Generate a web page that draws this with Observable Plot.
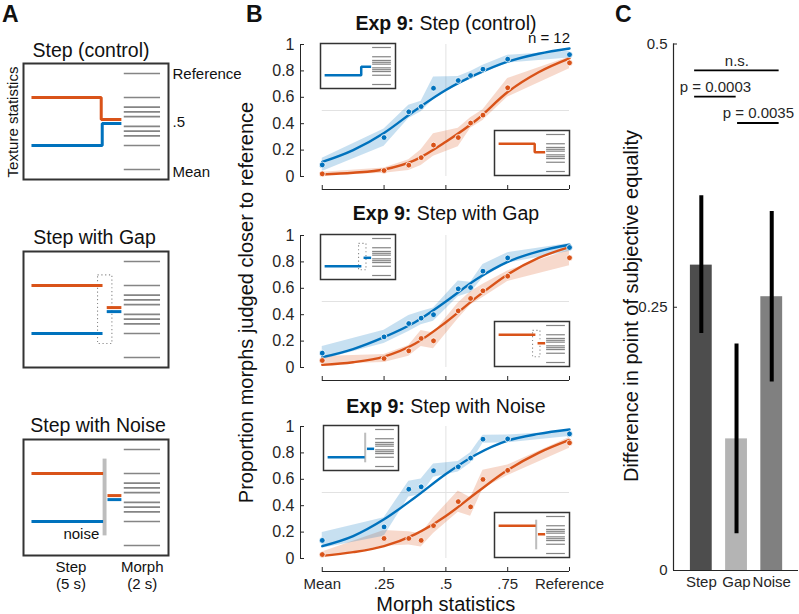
<!DOCTYPE html>
<html><head><meta charset="utf-8">
<script src="https://cdn.jsdelivr.net/npm/d3@7"></script>
<script src="https://cdn.jsdelivr.net/npm/@observablehq/plot@0.6"></script>
<style>
html,body{margin:0;padding:0;background:#fff;}
#fig{position:relative;width:799px;height:614px;overflow:hidden;}
</style></head><body><div id="fig"></div>
<script>
// ---------------- data ----------------
const morphX = [0, 0.25, 0.35, 0.4, 0.45, 0.55, 0.6, 0.65, 0.75, 1];
const fitX = [0, 0.125, 0.25, 0.375, 0.5, 0.625, 0.75, 0.875, 1];
const xTicks = [0, 0.25, 0.5, 0.75, 1];
const xTickLabels = ["Mean", ".25", ".5", ".75", "Reference"];
const yTicks = [0, 0.2, 0.4, 0.6, 0.8, 1];
const yTickLabels = ["0", "0.2", "0.4", "0.6", "0.8", "1"];
const titles = ["Step (control)", "Step with Gap", "Step with Noise"];
const expLabel = "Exp 9:";
const nLabel = "n = 12";

// Exp 9: Step (control)
const ctrlBlue = [0.088, 0.295, 0.49, 0.53, 0.669, 0.727, 0.765, 0.813, 0.889, 0.923];
const ctrlBlueCI = [0.05, 0.065, 0.05, 0.04, 0.085, 0.03, 0.03, 0.03, 0.03, 0.025];
const ctrlOrange = [0.02, 0.045, 0.086, 0.143, 0.238, 0.295, 0.405, 0.465, 0.672, 0.861];
const ctrlOrangeCI = [0.012, 0.02, 0.04, 0.06, 0.085, 0.07, 0.04, 0.04, 0.07, 0.045];
const ctrlBlueFit = [0.11, 0.2, 0.33, 0.5, 0.655, 0.775, 0.87, 0.93, 0.97];
const ctrlOrangeFit = [0.015, 0.028, 0.053, 0.124, 0.263, 0.43, 0.64, 0.79, 0.895];
// Exp 9: Step with Gap
const gapBlue = [0.109, 0.232, 0.333, 0.374, 0.40, 0.596, 0.606, 0.73, 0.83, 0.909];
const gapBlueCI = [0.05, 0.05, 0.06, 0.05, 0.05, 0.06, 0.04, 0.05, 0.04, 0.03];
const gapOrange = [0.053, 0.068, 0.126, 0.22, 0.202, 0.429, 0.523, 0.581, 0.692, 0.831];
const gapOrangeCI = [0.03, 0.03, 0.04, 0.06, 0.06, 0.06, 0.05, 0.05, 0.04, 0.06];
const gapBlueFit = [0.078, 0.14, 0.23, 0.343, 0.5, 0.67, 0.8, 0.88, 0.93];
const gapOrangeFit = [0.02, 0.04, 0.083, 0.18, 0.343, 0.533, 0.705, 0.83, 0.912];
// Exp 9: Step with Noise
const noiseBlue = [0.137, 0.239, 0.525, 0.543, 0.665, 0.695, 0.761, 0.904, 0.906, 0.944];
const noiseBlueCI = [0.06, 0.07, 0.06, 0.06, 0.05, 0.04, 0.04, 0.03, 0.03, 0.02];
const noiseOrange = [0.03, 0.152, 0.152, 0.137, 0.249, 0.431, 0.391, 0.599, 0.668, 0.876];
const noiseOrangeCI = [0.02, 0.06, 0.05, 0.05, 0.06, 0.08, 0.07, 0.07, 0.04, 0.04];
const noiseBlueFit = [0.094, 0.17, 0.297, 0.462, 0.64, 0.79, 0.893, 0.944, 0.977];
const noiseOrangeFit = [0.02, 0.048, 0.094, 0.183, 0.322, 0.5, 0.67, 0.8, 0.898];

// Panel C
const conditions = ["Step", "Gap", "Noise"];
const pseDiff = [0.290, 0.125, 0.260];
const pseLow = [0.225, 0.035, 0.179];
const pseHigh = [0.356, 0.215, 0.341];
const cTicks = [0, 0.25, 0.5];
const cTickLabels = ["0", "0.25", "0.5"];
const sigLabels = ["n.s.", "p = 0.0003", "p = 0.0035"];
const sigLevels = [0.475, 0.45, 0.425];
const sigFrom = [0.81, 0.81, 2.03];
const sigTo = [3.21, 1.99, 3.21];

// Panel A schematic (time in box units 0-10, statistic 0 = Mean .. 1 = Reference)
const sideNames = ["high", "low"];
const adaptLevels = [0.75, 0.25];
const probeLevels = [0.52, 0.478];
const changeTimes = [5.36, 5.43];
const gapWindowT = [5.14, 6.13];
const gapWindowV = [0.14, 0.855];
const noiseWindowT = [5.49, 5.76];
const noiseWindowV = [0.1, 0.9];
const axisLabelsA = ["Reference", ".5", "Mean"];
const timeLabelsA = [["Step", "(5 s)"], ["Morph", "(2 s)"]];

// ---------------- styles ----------------
const FONT = '"Liberation Sans", Arial, Helvetica, sans-serif';
const BLUE = "#0072BD", ORANGE = "#D95319";
const GRID = "#e2e2e2", AXIS = "#262626";
const barColors = ["#4d4d4d", "#b4b4b4", "#808080"];
const fig = document.getElementById("fig");
function place(node, left, top) {
  node.style.position = "absolute";
  node.style.left = left + "px";
  node.style.top = top + "px";
  fig.appendChild(node);
  return node;
}
const baseStyle = {fontFamily: FONT, fontSize: "15px", color: AXIS, background: "none", overflow: "visible"};

// ---------------- schematic ----------------
function schematic(kind, sides, W, H, pad, lw, mlw, fw) {
  const padU = pad / (H - 2 * pad);
  const stepOn = 0.55, probeOff = 6.75, morphOn = 6.95, morphOff = 9.45;
  const paths = [];
  sides.forEach(i => {
    const s = sideNames[i];
    if (kind === "step") {
      const tc = changeTimes[i];
      [[stepOn, adaptLevels[i]], [tc, adaptLevels[i]], [tc, probeLevels[i]], [probeOff, probeLevels[i]]]
        .forEach(([t, v]) => paths.push({t, v, s, seg: s + "a"}));
    } else {
      const end = kind === "gap" ? 5.45 : noiseWindowT[0];
      const start = kind === "gap" ? 5.74 : noiseWindowT[1] + 0.03;
      paths.push({t: stepOn, v: adaptLevels[i], s, seg: s + "a"}, {t: end, v: adaptLevels[i], s, seg: s + "a"});
      paths.push({t: start, v: probeLevels[i], s, seg: s + "b"}, {t: probeOff, v: probeLevels[i], s, seg: s + "b"});
    }
  });
  const marks = [Plot.frame({fill: "white", stroke: "#333", strokeWidth: fw})];
  marks.push(Plot.ruleY(morphX, {x1: morphOn, x2: morphOff, stroke: "#858585", strokeWidth: mlw}));
  if (kind === "gap") marks.push(Plot.rect([0], {x1: gapWindowT[0], x2: gapWindowT[1], y1: gapWindowV[0], y2: gapWindowV[1], fill: "none", stroke: "#8a8a8a", strokeWidth: 1.1, strokeDasharray: "1.2,2.6"}));
  if (kind === "noise") marks.push(Plot.rect([0], {x1: noiseWindowT[0], x2: noiseWindowT[1], y1: noiseWindowV[0], y2: noiseWindowV[1], fill: "#bdbdbd"}));
  marks.push(Plot.line(paths, {x: "t", y: "v", z: "seg", stroke: "s", strokeWidth: lw, strokeLinejoin: "miter", strokeLinecap: "butt"}));
  return Plot.plot({
    width: W + 2, height: H + 2, margin: 1,
    x: {domain: [0, 10], axis: null}, y: {domain: [-padU, 1 + padU], axis: null},
    color: {domain: sideNames, range: [ORANGE, BLUE]},
    style: baseStyle, marks
  });
}

// ---------------- panel B ----------------
function psychPlot(p, showLabels) {
  const pts = [], fits = [];
  morphX.forEach((x, i) => {
    pts.push({x, y: p.orange[i], lo: p.orange[i] - p.orangeCI[i], hi: p.orange[i] + p.orangeCI[i], s: "high"});
    pts.push({x, y: p.blue[i], lo: p.blue[i] - p.blueCI[i], hi: p.blue[i] + p.blueCI[i], s: "low"});
  });
  fitX.forEach((x, i) => {
    fits.push({x, y: p.orangeFit[i], s: "high"});
    fits.push({x, y: p.blueFit[i], s: "low"});
  });
  const x0 = -0.088, y0 = -0.0985;
  return Plot.plot({
    width: 355, height: 185, marginLeft: 45, marginRight: 41, marginTop: 10, marginBottom: 30,
    x: {domain: [x0, 1], label: null}, y: {domain: [y0, 1], label: null},
    color: {domain: sideNames, range: [ORANGE, BLUE]},
    style: baseStyle,
    marks: [
      Plot.ruleX([0.5], {y1: 0, y2: 1, stroke: GRID}),
      Plot.ruleY([0.5], {x1: 0, x2: 1, stroke: GRID}),
      Plot.areaY(pts, {x: "x", y1: "lo", y2: "hi", z: "s", fill: "s", fillOpacity: 0.22}),
      Plot.line(fits, {x: "x", y: "y", z: "s", stroke: "s", strokeWidth: 2.4, curve: "monotone-x"}),
      Plot.dot(pts, {x: "x", y: "y", fill: "s", r: 2.9, stroke: "white", strokeWidth: 0.8}),
      Plot.ruleX([x0], {y1: 0, y2: 1, stroke: AXIS}),
      Plot.ruleY([y0], {x1: 0, x2: 1, stroke: AXIS}),
      Plot.axisY({ticks: yTicks, tickFormat: d => yTickLabels[yTicks.indexOf(d)], tickSize: -4, tickPadding: 10, fontSize: 16, label: null}),
      Plot.axisX({ticks: xTicks, tickFormat: d => showLabels ? xTickLabels[xTicks.indexOf(d)] : "", tickSize: -4, tickPadding: 11, fontSize: 15, label: null})
    ]
  });
}

const bPanels = [
  {kind: "step", blue: ctrlBlue, blueCI: ctrlBlueCI, orange: ctrlOrange, orangeCI: ctrlOrangeCI, blueFit: ctrlBlueFit, orangeFit: ctrlOrangeFit},
  {kind: "gap", blue: gapBlue, blueCI: gapBlueCI, orange: gapOrange, orangeCI: gapOrangeCI, blueFit: gapBlueFit, orangeFit: gapOrangeFit},
  {kind: "noise", blue: noiseBlue, blueCI: noiseBlueCI, orange: noiseOrange, orangeCI: noiseOrangeCI, blueFit: noiseBlueFit, orangeFit: noiseOrangeFit}
];
const bTops = [34, 225, 416];
const insetLefts = [319.5, 319.5, 323];
bPanels.forEach((p, k) => place(psychPlot(p, k === 2), 255, bTops[k]));
bPanels.forEach((p, k) => {
  const Y1 = bTops[k] + 10, Y0 = bTops[k] + 142;
  place(schematic(p.kind, [1], 75, 45, 4, 2.5, 1.2, 1.5), insetLefts[k] - 1, Y1 - 2);
  place(schematic(p.kind, [0], 75, 45, 4, 2.5, 1.2, 1.5), 493, Y0 - 47);
});

// ---------------- panel A ----------------
const aTops = [62.5, 251, 439];
["step", "gap", "noise"].forEach((kind, k) => place(schematic(kind, [0, 1], 145, 116, 10, 3, 1.7, 2), 22, aTops[k] - 1));

// ---------------- panel C ----------------
const cData = conditions.map((name, i) => ({name, pos: i + 1, value: pseDiff[i], lo: pseLow[i], hi: pseHigh[i]}));
const sigData = sigLabels.map((label, i) => ({label, y: sigLevels[i], x1: sigFrom[i], x2: sigTo[i]}));
const cx0 = 0.21, cx1 = 3.76, barHalf = 0.31;
place(Plot.plot({
  width: 199, height: 584, marginLeft: 73, marginRight: 1, marginTop: 13.5, marginBottom: 44,
  x: {domain: [cx0, cx1], label: null}, y: {domain: [0, 0.5], label: null},
  color: {domain: conditions, range: barColors},
  style: baseStyle,
  marks: [
    Plot.rectY(cData, {x1: d => d.pos - barHalf, x2: d => d.pos + barHalf, y1: 0, y2: "value", fill: "name"}),
    Plot.ruleX(cData, {x: "pos", y1: "lo", y2: "hi", stroke: "black", strokeWidth: 4}),
    Plot.ruleY(sigData, {y: "y", x1: "x1", x2: "x2", stroke: "black", strokeWidth: 1.8}),
    Plot.text(sigData, {x: d => (d.x1 + d.x2) / 2, y: "y", text: "label", dy: -9.5, fontSize: 15, fill: AXIS}),
    Plot.ruleX([cx0], {y1: 0, y2: 0.5, stroke: AXIS, strokeWidth: 1.2}),
    Plot.ruleY([0], {x1: cx0, x2: cx1, stroke: AXIS, strokeWidth: 1.2}),
    Plot.axisY({ticks: cTicks, tickFormat: d => cTickLabels[cTicks.indexOf(d)], tickSize: -4, tickPadding: 10, fontSize: 15, label: null}),
    Plot.axisX({ticks: [1, 2, 3], tickFormat: d => conditions[d - 1], tickSize: 0, tickPadding: 6, fontSize: 15, label: null})
  ]
}), 600, 30);

// ---------------- text overlay ----------------
const ov = d3.create("svg").attr("width", 799).attr("height", 614)
  .style("position", "absolute").style("left", "0px").style("top", "0px")
  .style("pointer-events", "none").attr("font-family", FONT).attr("fill", "#111");
function txt(x, y, s, size, anchor = "start", weight = "normal", rotate = false) {
  const t = ov.append("text").attr("font-size", size).attr("text-anchor", anchor).attr("font-weight", weight).text(s);
  if (rotate) t.attr("transform", `translate(${x},${y}) rotate(-90)`);
  else t.attr("x", x).attr("y", y);
  return t;
}
txt(2, 21.5, "A", 23, "start", "bold");
txt(246, 22, "B", 23, "start", "bold");
txt(615, 21.5, "C", 23, "start", "bold");
// panel A
[[91, 56.5], [94.5, 243.5], [98, 432]].forEach(([x, y], k) => txt(x, y, titles[k], 19.5, "middle"));
txt(18, 122, "Texture statistics", 15, "middle", "normal", true);
[79, 127, 176.5].forEach((y, k) => txt(172.5, y, axisLabelsA[k], 15));
txt(99.3, 539, "noise", 15, "end");
[[71, timeLabelsA[0]], [142.3, timeLabelsA[1]]].forEach(([x, lines]) => {
  txt(x, 571.5, lines[0], 15, "middle");
  txt(x, 588.5, lines[1], 15, "middle");
});
// panel B
[29.5, 220, 413].forEach((y, k) => {
  const t = ov.append("text").attr("x", 446).attr("y", y).attr("font-size", 19.5).attr("text-anchor", "middle");
  t.append("tspan").attr("font-weight", "bold").text(expLabel);
  t.append("tspan").text(" " + titles[k]);
});
txt(570, 43, nLabel, 15, "end");
txt(253, 302.5, "Proportion morphs judged closer to reference", 20, "middle", "normal", true);
txt(445.8, 611, "Morph statistics", 20, "middle");
// panel C
txt(638, 306, "Difference in point of subjective equality", 20, "middle", "normal", true);
fig.appendChild(ov.node());
</script></body></html>
